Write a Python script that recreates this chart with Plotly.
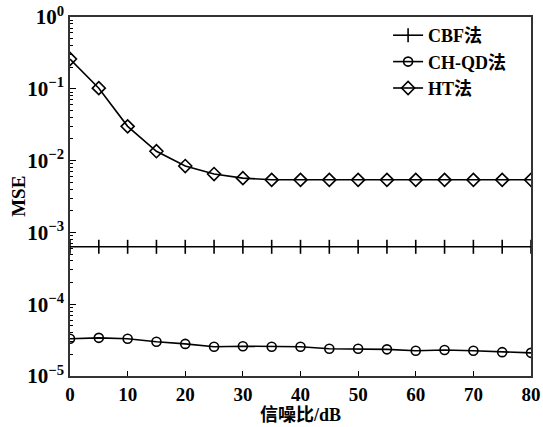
import plotly.graph_objects as go

snr = [0, 5, 10, 15, 20, 25, 30, 35, 40, 45, 50, 55, 60, 65, 70, 75, 80]
cbf = [6.3e-4] * 17
chqd = [3.3e-5, 3.4e-5, 3.3e-5, 3.0e-5, 2.8e-5, 2.55e-5, 2.6e-5, 2.55e-5, 2.55e-5,
        2.4e-5, 2.4e-5, 2.35e-5, 2.25e-5, 2.3e-5, 2.25e-5, 2.15e-5, 2.1e-5]
ht = [0.26, 0.102, 0.030, 0.0135, 0.0084, 0.0065, 0.0057, 0.0054, 0.0054,
      0.0054, 0.0054, 0.0054, 0.0054, 0.0054, 0.0054, 0.0054, 0.0054]
names = ["CBF法", "CH-QD法", "HT法"]
xtickvals = [0, 10, 20, 30, 40, 50, 60, 70, 80]
ytickvals = [1, 0.1, 0.01, 1e-3, 1e-4, 1e-5]
yticktext = ["10<sup>0</sup>", "10<sup>−1</sup>", "10<sup>−2</sup>", "10<sup>−3</sup>",
             "10<sup>−4</sup>", "10<sup>−5</sup>"]

FONT = "Liberation Serif, Times New Roman, Noto Sans CJK SC, serif"

fig = go.Figure()
fig.add_trace(go.Scatter(x=snr, y=cbf, name="<b>" + names[0] + "</b>", mode="lines+markers",
                         line=dict(color="black", width=1.6),
                         marker=dict(symbol="line-ns", size=10,
                                     line=dict(color="black", width=1.6))))
fig.add_trace(go.Scatter(x=snr, y=chqd, name="<b>" + names[1] + "</b>", mode="lines+markers",
                         line=dict(color="black", width=1.6),
                         marker=dict(symbol="circle-open", size=9, color="black",
                                     line=dict(color="black", width=1.6))))
fig.add_trace(go.Scatter(x=snr, y=ht, name="<b>" + names[2] + "</b>", mode="lines+markers",
                         line=dict(color="black", width=1.6),
                         marker=dict(symbol="diamond-open", size=10, color="black",
                                     line=dict(color="black", width=1.6))))

fig.update_layout(
    width=543, height=427,
    margin=dict(l=70, r=12, t=17, b=51),
    paper_bgcolor="white", plot_bgcolor="white",
    font=dict(family=FONT, color="black", size=18),
    legend=dict(x=0.69, y=1.0, xanchor="left", yanchor="top",
                bgcolor="rgba(0,0,0,0)", font=dict(size=18, family=FONT),
                tracegroupgap=0, itemwidth=30),
    showlegend=True,
    annotations=[dict(text="<b>MSE</b>", textangle=-90, xref="paper", yref="paper",
                      x=-0.112, y=0.5, xanchor="center", yanchor="middle",
                      showarrow=False, font=dict(size=19, family=FONT))],
)
fig.update_xaxes(
    automargin=False,
    range=[0, 80], tickmode="array", tickvals=xtickvals,
    ticktext=["<b>%d</b>" % v for v in xtickvals],
    ticks="inside", ticklen=5, tickwidth=1.2, tickcolor="black",
    showline=True, linecolor="#333", linewidth=1.5, mirror=True,
    showgrid=False, zeroline=False,
    tickfont=dict(size=19, family=FONT),
    title=dict(text="<b>信噪比/dB</b>", font=dict(size=18, family=FONT), standoff=2),
)
fig.update_yaxes(
    automargin=False,
    type="log", range=[-5, 0],
    tickmode="array", tickvals=ytickvals, ticktext=["<b>" + t + "</b>" for t in yticktext],
    ticks="inside", ticklen=6, tickwidth=1.2, tickcolor="black",
    minor=dict(ticks="inside", ticklen=3, tickcolor="black", dtick="D1", showgrid=False),
    showline=True, linecolor="#333", linewidth=1.5, mirror=True,
    showgrid=False, zeroline=False,
    tickfont=dict(size=21, family=FONT),
)

fig.write_html("out.html")
